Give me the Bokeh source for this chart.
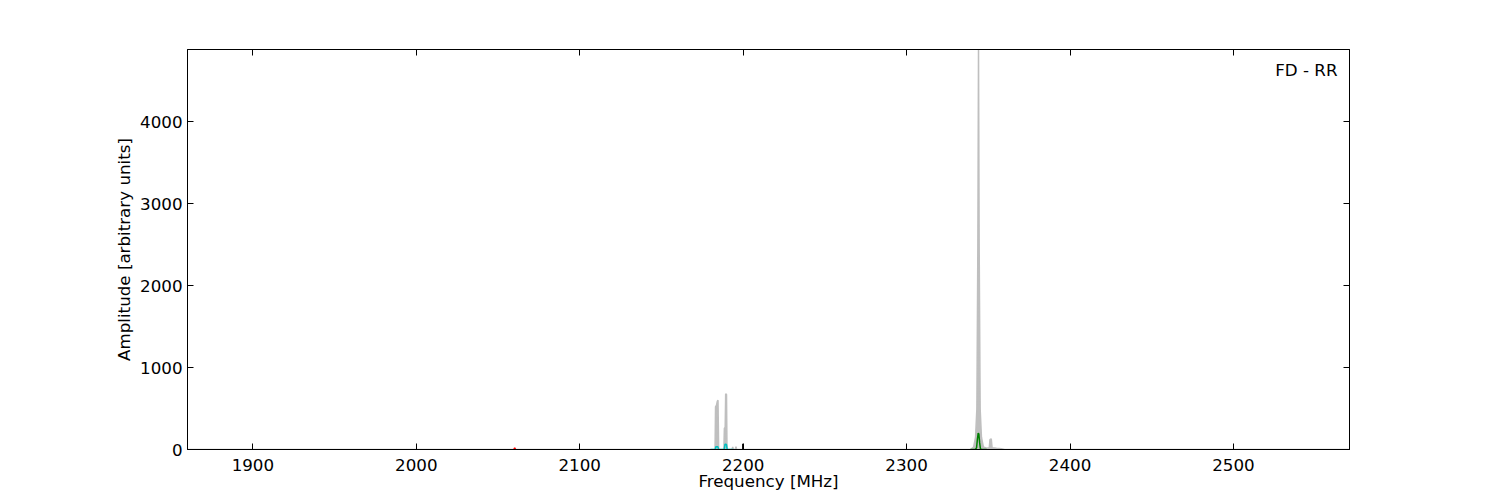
from bokeh.plotting import figure
from bokeh.models import Range1d, FixedTicker, LinearAxis, Label
from bokeh.embed import file_html
from bokeh.resources import INLINE

# ---- data ----
grey_freq = [1860, 2182.8, 2183.1, 2183.7, 2184.2, 2184.6, 2185.0,
             2188.2, 2188.5, 2189.0, 2189.3, 2189.8, 2190.1,
             2193.2, 2193.6, 2194.0, 2195.2, 2195.6, 2196.0,
             2339.0, 2341.0, 2342.2, 2343.0, 2343.6, 2344.0, 2344.4, 2345.0,
             2345.8, 2347.0, 2349.0, 2350.6, 2351.0, 2351.8, 2352.3, 2355.0,
             2358.0, 2360.0, 2571]
grey_amp = [0, 0, 520, 540, 590, 600, 0,
            0, 260, 270, 680, 670, 0,
            0, 30, 0, 0, 35, 0,
            0, 30, 150, 500, 2500, 4878, 2500, 500,
            150, 30, 15, 20, 120, 130, 20, 15,
            10, 0, 0]

green_freq = [2339.0, 2342.0, 2342.8, 2343.3, 2343.8, 2344.2, 2344.7, 2345.2, 2346.0, 2349.0]
green_amp = [0, 0, 20, 120, 200, 190, 80, 5, 0, 0]

cyan_freq = [2180.0, 2182.9, 2183.3, 2184.5, 2185.0, 2188.4, 2188.9, 2189.8, 2190.2, 2194.0]
cyan_amp = [0, 0, 35, 35, 0, 0, 65, 60, 0, 0]

red_freq = [2059.7, 2060.2, 2060.7]
red_amp = [0, 22, 0]

black_freq = [2199.7, 2199.7]
black_amp = [0, 70]

x_ticks = [1900, 2000, 2100, 2200, 2300, 2400, 2500]
y_ticks = [0, 1000, 2000, 3000, 4000]

FONT = "DejaVu Sans"
FS = "16.7px"

p = figure(width=1490, height=496, output_backend="svg", toolbar_location=None,
           x_range=Range1d(1860, 2571), y_range=Range1d(0, 4880),
           min_border_left=187, min_border_right=141, min_border_top=49, min_border_bottom=47)
p.xgrid.visible = False
p.ygrid.visible = False
p.outline_line_color = "black"
p.outline_line_width = 1
p.background_fill_color = "white"
p.border_fill_color = "white"

p.varea(x=grey_freq, y1=[0] * len(grey_freq), y2=grey_amp, fill_color="#bfbfbf")
p.line(grey_freq, grey_amp, line_color="#bfbfbf", line_width=1.5)
p.line(cyan_freq, cyan_amp, line_color="#00bfbf", line_width=1.5)
p.line(red_freq, red_amp, line_color="#ff0000", line_width=1.5)
p.line(black_freq, black_amp, line_color="black", line_width=1.2)
p.line(green_freq, green_amp, line_color="#008000", line_width=1.5)

def style(ax, labels=True):
    ax.axis_line_color = "black"
    ax.major_tick_in = 6
    ax.major_tick_out = 0
    ax.minor_tick_in = 0
    ax.minor_tick_out = 0
    ax.major_label_text_font = FONT
    ax.major_label_text_font_size = FS
    ax.major_label_text_color = "black"
    ax.axis_label_text_font = FONT
    ax.axis_label_text_font_size = FS
    ax.axis_label_text_font_style = "normal"
    ax.axis_label_text_color = "black"
    if not labels:
        ax.major_label_text_font_size = "0px"

p.xaxis.ticker = FixedTicker(ticks=x_ticks)
p.yaxis.ticker = FixedTicker(ticks=y_ticks)
p.xaxis.axis_label = "Frequency [MHz]"
p.yaxis.axis_label = "Amplitude [arbitrary units]"
style(p.xaxis[0])
style(p.yaxis[0])
p.xaxis.major_label_standoff = 9
p.yaxis.major_label_standoff = 5
p.xaxis.axis_label_standoff = -3
p.yaxis.axis_label_standoff = 3

top = LinearAxis(ticker=FixedTicker(ticks=x_ticks), major_label_overrides={t: "" for t in x_ticks})
right = LinearAxis(ticker=FixedTicker(ticks=y_ticks), major_label_overrides={t: "" for t in y_ticks})
style(top, labels=False)
style(right, labels=False)
p.add_layout(top, "above")
p.add_layout(right, "right")

p.add_layout(Label(x=1150, y=390, x_units="screen", y_units="screen", text="FD - RR",
                   text_align="right", text_baseline="top", text_font=FONT,
                   text_font_size=FS, text_color="black"))

open("out.html", "w").write(file_html(p, INLINE))
